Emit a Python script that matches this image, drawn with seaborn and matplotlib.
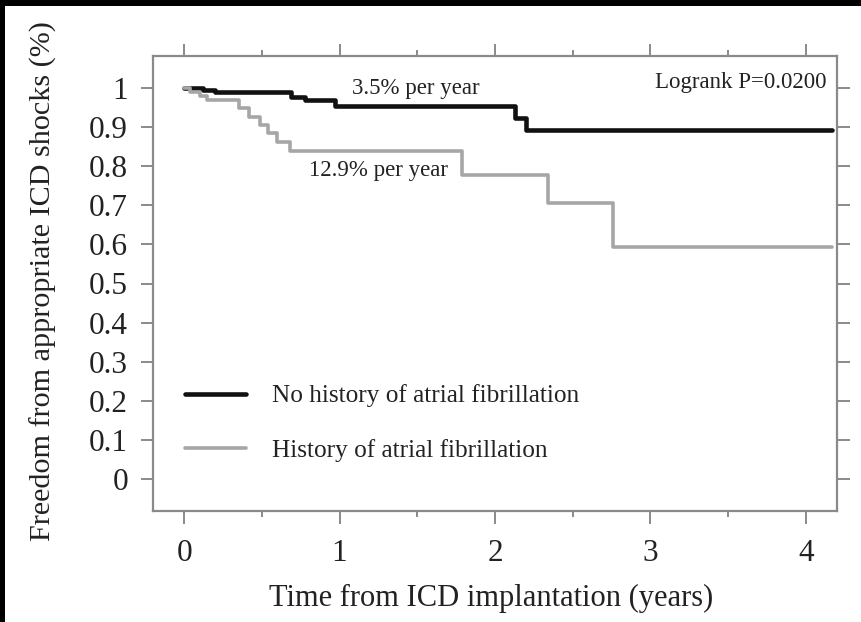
import numpy as np
import pandas as pd
import matplotlib
matplotlib.use("Agg")
import matplotlib.pyplot as plt
import seaborn as sns
from matplotlib.patches import Rectangle
from matplotlib.ticker import MultipleLocator

# ---- data ----
no_af_time = [0, 0.12, 0.20, 0.69, 0.78, 0.97, 2.13, 2.20, 4.17]
no_af_surv = [1.0, 0.995, 0.99, 0.978, 0.969, 0.955, 0.923, 0.893, 0.893]
af_time = [0, 0.04, 0.10, 0.15, 0.35, 0.42, 0.49, 0.54, 0.60, 0.68, 1.79, 2.34, 2.76, 4.17]
af_surv = [1.0, 0.99, 0.98, 0.969, 0.949, 0.926, 0.905, 0.885, 0.862, 0.838, 0.777, 0.706, 0.594, 0.594]
groups = ["No history of atrial fibrillation", "History of atrial fibrillation"]
x_ticks = [0, 1, 2, 3, 4]
y_ticks = [0, 0.1, 0.2, 0.3, 0.4, 0.5, 0.6, 0.7, 0.8, 0.9, 1.0]
y_tick_labels = ["0", "0.1", "0.2", "0.3", "0.4", "0.5", "0.6", "0.7", "0.8", "0.9", "1"]
rate_labels = ["3.5% per year", "12.9% per year"]
logrank_text = "Logrank P=0.0200"

df = pd.concat([
    pd.DataFrame({"time": no_af_time, "surv": no_af_surv, "group": groups[0]}),
    pd.DataFrame({"time": af_time, "surv": af_surv, "group": groups[1]}),
])

sns.set_theme(style="ticks")
plt.rcParams["font.family"] = ["Liberation Serif", "DejaVu Serif"]

fig = plt.figure(figsize=(8.61, 6.22), dpi=100)
fig.patch.set_facecolor("white")
ax = fig.add_axes([153 / 861, 1 - 511 / 622, (837 - 153) / 861, (511 - 56) / 622])

colors = {groups[0]: "#111111", groups[1]: "#a6a6a6"}
widths = {groups[0]: 3.3, groups[1]: 2.6}
for g in groups:
    sns.lineplot(data=df[df["group"] == g], x="time", y="surv", ax=ax,
                 estimator=None, sort=False, drawstyle="steps-post",
                 color=colors[g], linewidth=widths[g], label=g)

ax.set_xlim(-0.2, 4.2)
ax.set_ylim(-0.082, 1.082)
ax.set_xticks(x_ticks)
ax.set_xticklabels([str(v) for v in x_ticks])
ax.xaxis.set_minor_locator(MultipleLocator(0.5))
ax.set_yticks(y_ticks)
ax.set_yticklabels(y_tick_labels)

spine_c = "#8a8a8a"
for s in ax.spines.values():
    s.set_color(spine_c)
    s.set_linewidth(1.6)
    s.set_visible(True)
ax.tick_params(axis="both", which="both", direction="out", color=spine_c,
               top=True, right=True, labeltop=False, labelright=False,
               labelsize=22.5, labelcolor="#222222")
ax.tick_params(axis="both", which="major", length=9, width=1.4)
ax.tick_params(axis="x", which="minor", length=4, width=1.4)
ax.tick_params(axis="x", which="major", pad=11)
ax.tick_params(axis="y", which="major", pad=9)

ax.set_xlabel("Time from ICD implantation (years)", fontsize=22, color="#222222")
ax.set_ylabel("Freedom from appropriate ICD shocks (%)", fontsize=21.7, color="#222222")
ax.xaxis.set_label_coords(0.494, -0.16)
ax.yaxis.set_label_coords(-0.14, 0.505)

ax.text(1.49, 1.0, rate_labels[0], fontsize=16.5, ha="center", va="center", color="#222222")
ax.text(1.25, 0.79, rate_labels[1], fontsize=16.5, ha="center", va="center", color="#222222")
ax.text(4.13, 1.015, logrank_text, fontsize=16.5, ha="right", va="center", color="#222222")

leg = ax.legend(loc="center left", bbox_to_anchor=(0.047, 0.193), frameon=False,
                fontsize=18.2, handlelength=2.4, handletextpad=1.05,
                labelspacing=1.25, borderpad=0, borderaxespad=0)
for t in leg.get_texts():
    t.set_color("#222222")

# black frame strips seen at top and left edges
fig.patches.append(Rectangle((0, 1 - 6 / 622), 1, 6 / 622, transform=fig.transFigure,
                             facecolor="black", edgecolor="none", zorder=10))
fig.patches.append(Rectangle((0, 0), 5 / 861, 1, transform=fig.transFigure,
                             facecolor="black", edgecolor="none", zorder=10))

fig.savefig("out.png", dpi=100, facecolor="white")
